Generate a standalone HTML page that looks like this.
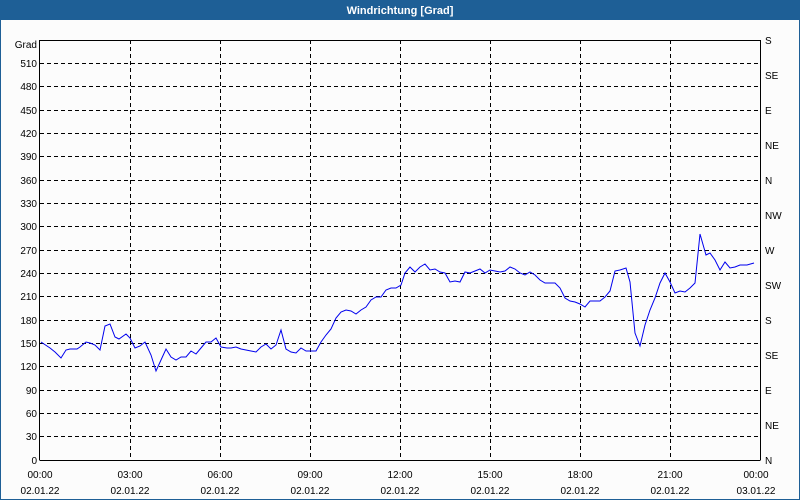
<!DOCTYPE html>
<html><head><meta charset="utf-8"><style>
body{margin:0;background:#fff}
svg{display:block}
text{font-family:"Liberation Sans",sans-serif;font-size:10px;fill:#000}
</style></head><body>
<svg width="800" height="500" xmlns="http://www.w3.org/2000/svg">
<rect x="0" y="0" width="800" height="500" fill="#fcfcfc"/>
<rect x="0.5" y="0.5" width="799" height="499" fill="none" stroke="#1e5f96"/>
<rect x="0" y="0" width="800" height="20" fill="#1e5f96"/>
<text x="400" y="14" text-anchor="middle" style="font-weight:bold;fill:#fff;font-size:11px">Windrichtung [Grad]</text>
<g stroke="#000" stroke-dasharray="4,3" stroke-width="1">
<line x1="40" y1="63.5" x2="760" y2="63.5"/><line x1="40" y1="86.5" x2="760" y2="86.5"/><line x1="40" y1="110.5" x2="760" y2="110.5"/><line x1="40" y1="133.5" x2="760" y2="133.5"/><line x1="40" y1="156.5" x2="760" y2="156.5"/><line x1="40" y1="180.5" x2="760" y2="180.5"/><line x1="40" y1="203.5" x2="760" y2="203.5"/><line x1="40" y1="226.5" x2="760" y2="226.5"/><line x1="40" y1="250.5" x2="760" y2="250.5"/><line x1="40" y1="273.5" x2="760" y2="273.5"/><line x1="40" y1="296.5" x2="760" y2="296.5"/><line x1="40" y1="320.5" x2="760" y2="320.5"/><line x1="40" y1="343.5" x2="760" y2="343.5"/><line x1="40" y1="366.5" x2="760" y2="366.5"/><line x1="40" y1="390.5" x2="760" y2="390.5"/><line x1="40" y1="413.5" x2="760" y2="413.5"/><line x1="40" y1="436.5" x2="760" y2="436.5"/>
<line x1="130.5" y1="40" x2="130.5" y2="460"/><line x1="220.5" y1="40" x2="220.5" y2="460"/><line x1="310.5" y1="40" x2="310.5" y2="460"/><line x1="400.5" y1="40" x2="400.5" y2="460"/><line x1="490.5" y1="40" x2="490.5" y2="460"/><line x1="580.5" y1="40" x2="580.5" y2="460"/><line x1="670.5" y1="40" x2="670.5" y2="460"/>
</g>
<g stroke="#000" stroke-width="1" fill="none">
<line x1="39.5" y1="40" x2="39.5" y2="460"/><line x1="39.5" y1="40.5" x2="760" y2="40.5"/><line x1="760.5" y1="40" x2="760.5" y2="460"/><line x1="39.5" y1="460.5" x2="760.5" y2="460.5"/>
</g>
<polyline fill="none" stroke="#0000ee" stroke-width="1" points="41,342 50,348 55,352 61,358 66,350 70,349 77,349 80,347 86,342 90,343 95,345 100,350 105,326 110,324 115,337 119,339 126,334 130,338 135,348 140,346 145,342 151,355 156,371 161,360 166,349 171,357 176,360 181,357 186,357 191,351 196,354 201,348 206,342 211,342 216,338 221,347 227,348 231,348 236,347 241,349 246,350 251,351 256,352 261,347 266,344 271,349 276,345 281,330 286,349 291,352 296,353 301,348 306,351 311,351 316,351 321,342 326,335 331,329 336,318 341,312 346,310 351,311 356,314 361,310 366,307 371,300 376,297 381,297 386,290 391,288 396,288 401,285 405,273 410,267 415,272 420,267 425,264 430,270 435,269 440,272 445,273 450,282 455,281 460,282 465,272 470,273 475,271 480,269 485,273 490,270 495,271 500,272 505,271 510,267 515,269 520,273 525,275 530,272 535,275 540,280 545,283 550,283 555,283 560,288 565,298 570,301 575,302 580,304 585,307 590,301 595,301 600,301 605,297 610,291 615,271 620,270 626,268 630,282 635,333 640,346 645,325 650,310 655,298 660,283 665,273 670,282 675,293 680,291 685,292 690,288 695,283 700,234 706,255 710,253 715,260 720,270 725,262 730,268 735,267 740,265 747,265 754,263"/>
<g text-anchor="end">
<text x="37" y="48">Grad</text><text x="37" y="67">510</text><text x="37" y="90">480</text><text x="37" y="114">450</text><text x="37" y="137">420</text><text x="37" y="160">390</text><text x="37" y="184">360</text><text x="37" y="207">330</text><text x="37" y="230">300</text><text x="37" y="254">270</text><text x="37" y="277">240</text><text x="37" y="300">210</text><text x="37" y="324">180</text><text x="37" y="347">150</text><text x="37" y="370">120</text><text x="37" y="394">90</text><text x="37" y="417">60</text><text x="37" y="440">30</text><text x="37" y="464">0</text>
</g>
<g>
<text x="765" y="44">S</text><text x="765" y="79">SE</text><text x="765" y="114">E</text><text x="765" y="149">NE</text><text x="765" y="184">N</text><text x="765" y="219">NW</text><text x="765" y="254">W</text><text x="765" y="289">SW</text><text x="765" y="324">S</text><text x="765" y="359">SE</text><text x="765" y="394">E</text><text x="765" y="429">NE</text><text x="765" y="464">N</text>
</g>
<g text-anchor="middle">
<text x="40" y="478">00:00</text><text x="130" y="478">03:00</text><text x="220" y="478">06:00</text><text x="310" y="478">09:00</text><text x="400" y="478">12:00</text><text x="490" y="478">15:00</text><text x="580" y="478">18:00</text><text x="670" y="478">21:00</text><text x="756" y="478">00:00</text>
<text x="40" y="494">02.01.22</text><text x="130" y="494">02.01.22</text><text x="220" y="494">02.01.22</text><text x="310" y="494">02.01.22</text><text x="400" y="494">02.01.22</text><text x="490" y="494">02.01.22</text><text x="580" y="494">02.01.22</text><text x="670" y="494">02.01.22</text><text x="756" y="494">03.01.22</text>
</g>
</svg>
</body></html>
